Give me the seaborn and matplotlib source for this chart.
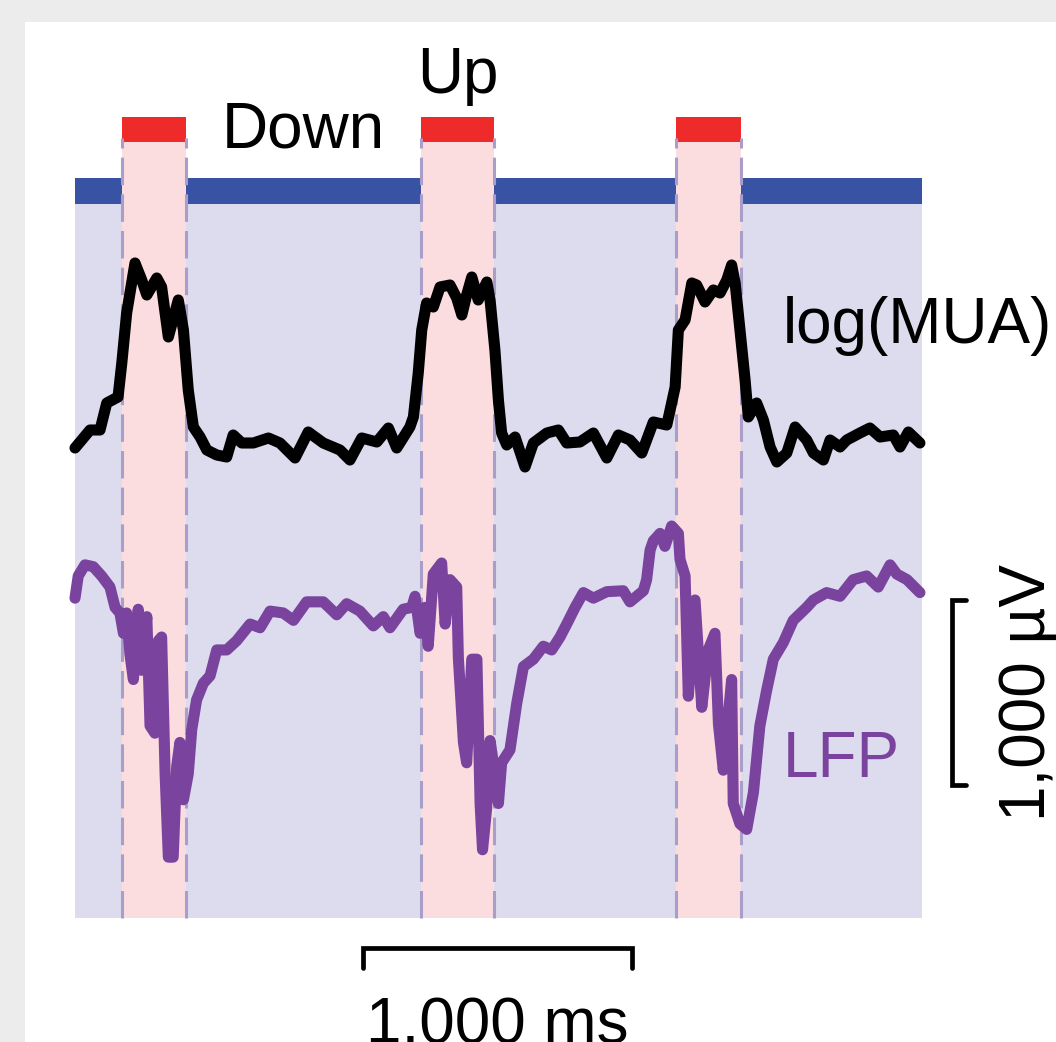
import numpy as np
import pandas as pd
import matplotlib
matplotlib.use("Agg")
import matplotlib.pyplot as plt
from matplotlib.patches import Rectangle
import seaborn as sns

sns.set_style("white")
plt.rcParams["font.family"] = ["Liberation Sans", "DejaVu Sans"]
plt.rcParams["text.color"] = "black"

# state intervals (ms)
record_ms = 3150
up_start = [175, 1286, 2235]
up_end = [413, 1558, 2475]

# log(MUA), arbitrary units
mua_time = [0, 56, 93, 118, 160, 174, 192, 223, 248, 267,
            304, 322, 347, 384, 403, 421, 440, 465, 490, 527,
            564, 588, 620, 663, 719, 762, 818, 867, 923, 985,
            1022, 1066, 1122, 1165, 1196, 1245, 1258, 1276, 1289, 1307,
            1332, 1357, 1394, 1419, 1438, 1456, 1475, 1499, 1531, 1543,
            1561, 1574, 1586, 1605, 1636, 1673, 1704, 1754, 1797, 1828,
            1877, 1927, 1977, 2020, 2063, 2107, 2150, 2200, 2231, 2243,
            2268, 2293, 2311, 2342, 2373, 2398, 2423, 2441, 2454, 2472,
            2491, 2503, 2534, 2559, 2584, 2609, 2646, 2677, 2720, 2745,
            2782, 2807, 2844, 2869, 2918, 2955, 2993, 3042, 3067, 3098,
            3141]
mua_vals = [0.02, 0.20, 0.20, 0.47, 0.53, 0.87, 1.37, 1.87, 1.70, 1.55,
            1.72, 1.63, 1.13, 1.50, 1.20, 0.60, 0.23, 0.13, 0.00, -0.05,
            -0.07, 0.15, 0.07, 0.07, 0.12, 0.07, -0.08, 0.18, 0.07, 0.00,
            -0.10, 0.12, 0.08, 0.22, 0.02, 0.23, 0.33, 0.77, 1.20, 1.47,
            1.43, 1.63, 1.65, 1.52, 1.35, 1.55, 1.73, 1.50, 1.68, 1.50,
            1.00, 0.50, 0.17, 0.05, 0.13, -0.17, 0.07, 0.17, 0.20, 0.07,
            0.08, 0.17, -0.08, 0.15, 0.10, -0.03, 0.28, 0.25, 0.63, 1.20,
            1.30, 1.67, 1.65, 1.48, 1.60, 1.57, 1.70, 1.85, 1.67, 1.20,
            0.70, 0.33, 0.47, 0.30, 0.03, -0.12, -0.03, 0.23, 0.10, -0.03,
            -0.10, 0.10, 0.03, 0.10, 0.17, 0.22, 0.13, 0.15, 0.03, 0.18,
            0.07]

# LFP (uV)
lfp_time = [0, 12, 37, 68, 99, 130, 149, 167, 180, 192,
            204, 217, 235, 248, 267, 279, 297, 310, 322, 335,
            347, 365, 378, 390, 403, 421, 434, 452, 477, 502,
            527, 564, 601, 651, 688, 725, 774, 812, 861, 923,
            973, 1010, 1059, 1109, 1146, 1171, 1220, 1252, 1264, 1283,
            1301, 1313, 1332, 1363, 1376, 1394, 1419, 1425, 1444, 1456,
            1475, 1494, 1506, 1515, 1530, 1543, 1555, 1574, 1586, 1617,
            1642, 1667, 1704, 1741, 1772, 1803, 1828, 1859, 1890, 1927,
            1977, 2038, 2063, 2113, 2125, 2138, 2150, 2163, 2175, 2193,
            2218, 2243, 2249, 2268, 2280, 2305, 2330, 2354, 2379, 2392,
            2410, 2441, 2447, 2472, 2497, 2522, 2546, 2571, 2596, 2633,
            2670, 2720, 2745, 2794, 2844, 2893, 2943, 2986, 3030, 3055,
            3093, 3141]
lfp_uv = [10, 130, 190, 180, 130, 70, -40, -70, -180, -70,
          -290, -430, -50, -380, -90, -680, -720, -220, -200, -940,
          -1390, -1390, -900, -770, -1080, -940, -700, -540, -450, -410,
          -270, -270, -220, -130, -150, -60, -70, -110, -10, -10,
          -80, -20, -60, -140, -90, -150, -50, -40, 20, -180,
          -40, -250, 140, 200, -130, 110, 70, -310, -770, -880,
          -320, -320, -1100, -1350, -1130, -760, -880, -1100, -880, -810,
          -560, -360, -320, -250, -270, -200, -130, -40, 40, 10,
          45, 50, -10, 50, 110, 270, 320, 340, 360, 290,
          400, 360, 220, 130, -520, 0, -580, -270, -180, -670,
          -920, -430, -1100, -1210, -1240, -1040, -680, -490, -320, -230,
          -110, -40, 0, 40, 20, 110, 130, 70, 190, 140,
          110, 40]

df_mua = pd.DataFrame({"time_ms": mua_time, "log_mua": mua_vals})
df_lfp = pd.DataFrame({"time_ms": lfp_time, "lfp_uv": lfp_uv})

W, H = 1056, 1042
ms_per_px = 1000 / 269
uv_per_px = 1000 / 185


def fy(px):
    return 1 - px / H


lavender = "#dddcee"
pink = "#fbdde0"
blue = "#3953a4"
red = "#ee2a2a"
dash_col = "#a99dca"
purple = "#7a449e"

fig = plt.figure(figsize=(W / 100, H / 100), dpi=100, facecolor="#ececec")
fig.patches.append(Rectangle((25 / W, 0), 1, fy(22), transform=fig.transFigure,
                             facecolor="white", edgecolor="none", zorder=-1))

ax = fig.add_axes([0, 0, 1, 1])
ax.set_xlim(-75 * ms_per_px, (W - 75) * ms_per_px)
ax.set_ylim((600 - H) * uv_per_px, 600 * uv_per_px)
ax.axis("off")

# background states
ax.axvspan(0, record_ms, fy(918), fy(204), facecolor=lavender, edgecolor="none", zorder=1)
ax.axvspan(0, record_ms, fy(204), fy(178), facecolor=blue, edgecolor="none", zorder=1)
for s, e in zip(up_start, up_end):
    ax.axvspan(s, e, fy(918), fy(142), facecolor=pink, edgecolor="none", zorder=2)
    ax.axvspan(s, e, fy(142), fy(117), facecolor=red, edgecolor="none", zorder=2)
    for x in (s, e):
        ax.axvline(x, fy(918), fy(138), color=dash_col, lw=2.2,
                   linestyle=(0, (9, 3)), zorder=3)

sns.lineplot(data=df_lfp, x="time_ms", y="lfp_uv", ax=ax, color=purple,
             linewidth=8, estimator=None, zorder=5,
             solid_joinstyle="round", solid_capstyle="round")
ax.set_xlabel("")
ax.set_ylabel("")

ax2 = ax.twinx()
ax2.set_ylim((450 - H) / 100, 450 / 100)
ax2.axis("off")
sns.lineplot(data=df_mua, x="time_ms", y="log_mua", ax=ax2, color="black",
             linewidth=8, estimator=None, zorder=5,
             solid_joinstyle="round", solid_capstyle="round")
ax2.set_xlim(ax.get_xlim())
ax2.set_xlabel("")
ax2.set_ylabel("")

# scale bars
tr = ax.get_xaxis_transform()
bar_x0, bar_x1 = 1070, 2070
ax.plot([bar_x0, bar_x0, bar_x1, bar_x1], [fy(968), fy(948), fy(948), fy(968)],
        transform=tr, color="black", lw=3.4, solid_joinstyle="miter", clip_on=False)
vb_x, vb_tick = 3260, 3312
ax.plot([vb_tick, vb_x, vb_x, vb_tick], [0, 0, -1000, -1000],
        color="black", lw=3.4, solid_joinstyle="miter", clip_on=False)

fs = 46
ax.text((up_start[1] + up_end[1]) / 2, fy(93), "Up", transform=tr,
        ha="center", va="baseline", fontsize=fs, color="black")
ax.text((up_end[0] + up_start[1]) / 2, fy(147), "Down", transform=tr,
        ha="center", va="baseline", fontsize=fs, color="black")
ax.text((783 - 75) * ms_per_px, fy(343), "log(MUA)", transform=tr,
        ha="left", va="baseline", fontsize=fs, color="black", clip_on=False)
ax.text((783 - 75) * ms_per_px, fy(777), "LFP", transform=tr,
        ha="left", va="baseline", fontsize=fs, color=purple)
ax.text((bar_x0 + bar_x1) / 2, fy(1043), "1,000 ms", transform=tr,
        ha="center", va="baseline", fontsize=fs, color="black")
ax.text((1045 - 75) * ms_per_px, -500, "1,000 µV", rotation=90,
        rotation_mode="anchor", ha="center", va="baseline", fontsize=fs,
        color="black")

fig.savefig("out.png", dpi=100, facecolor=fig.get_facecolor())
